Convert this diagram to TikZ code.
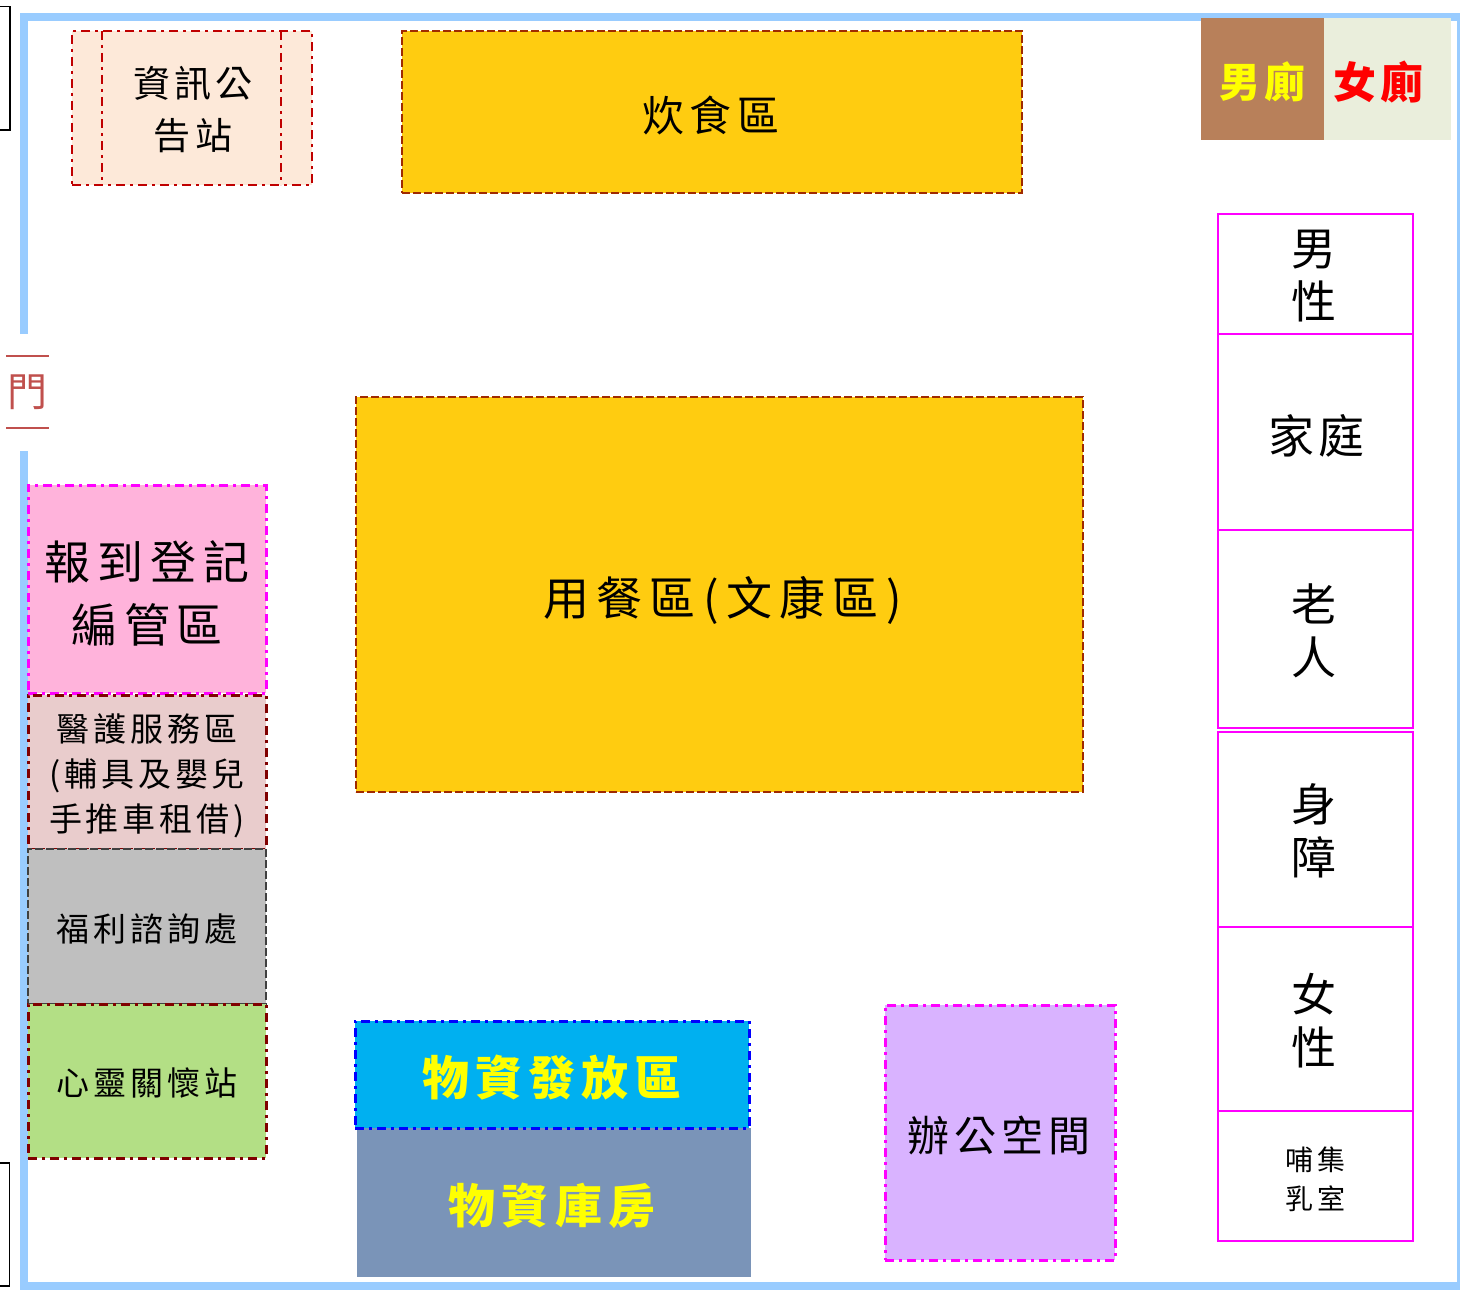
\documentclass[tikz,border=0pt]{standalone}
\usepackage{fontspec}
\setmainfont{Noto Sans CJK TC}
\usetikzlibrary{calc}
\definecolor{wallblue}{HTML}{99CCFF}
\definecolor{doorred}{HTML}{C0504D}
\definecolor{infofill}{HTML}{FDE9D9}
\definecolor{infoline}{HTML}{C00000}
\definecolor{amber}{HTML}{FFCC10}
\definecolor{amberline}{HTML}{A02B00}
\definecolor{pinkfill}{HTML}{FFB3DB}
\definecolor{rosefill}{HTML}{E9CCCC}
\definecolor{darkred}{HTML}{800000}
\definecolor{grayfill}{HTML}{BFBFBF}
\definecolor{grayline}{HTML}{404040}
\definecolor{greenfill}{HTML}{B3DF85}
\definecolor{cyanfill}{HTML}{00B0F0}
\definecolor{steelfill}{HTML}{7A94B8}
\definecolor{violetfill}{HTML}{D9B3FF}
\definecolor{brownfill}{HTML}{B8805A}
\definecolor{creamfill}{HTML}{EAEEDC}
\definecolor{puremagenta}{HTML}{FF00FF}
\definecolor{pureyellow}{HTML}{FFFF00}
\definecolor{purered}{HTML}{FF0000}
\definecolor{pureblue}{HTML}{0000FF}
\newcommand{\zhsize}[3]{\fontsize{#1}{#2}\selectfont\addfontfeature{LetterSpace=#3}}
\newcommand{\zhbold}[3]{\fontsize{#1}{#2}\selectfont\bfseries\addfontfeature{LetterSpace=#3}}
% name, x0, y0, x1, y1, box style, label style with offset, text
\newcommand{\zbox}[8]{%
  \node[#6, minimum width={(#4-#2)*1pt}, minimum height={(#5-#3)*1pt}] (#1) at ({(#2+#4)/2},{(#3+#5)/2}) {};
  \node[zonetext, #7] (#1-text) at (#1.center) {#8};}
\tikzset{
  x=1pt, y=-1pt,
  zone/.style={rectangle, inner sep=0pt, outer sep=0pt},
  zonetext/.style={inner sep=0pt, outer sep=0pt, align=center, text=black},
  dashdot/.style={line width=3pt, dash pattern=on 9pt off 5pt on 3pt off 5pt},
  longdash/.style={line width=2.8pt, dash pattern=on 8pt off 3pt},
  bay/.style={zone, draw=puremagenta, line width=2.7pt, fill=white},
  wall/.style={draw=wallblue, line width=8pt, line join=miter},
  door/.style={draw=doorred, line width=1.6pt},
  offbox/.style={draw=black, line width=1.4pt, fill=white}
}
\begin{document}
\begin{tikzpicture}
\useasboundingbox (0,0) rectangle (1460,1290);
% walls
\coordinate (wa) at (24,334);
\coordinate (wb) at (24,17);
\coordinate (wc) at (1461,17);
\coordinate (wd) at (1461,1285.5);
\coordinate (we) at (24,1285.5);
\coordinate (wf) at (24,451);
\draw[wall] (wa) -- (wb) -- (wc) -- (wd) -- (we) -- (wf);
% off-page boxes
\coordinate (ba) at (-5,6.5); \coordinate (bb) at (10,130);
\coordinate (bc) at (-5,1163); \coordinate (bd) at (9.5,1286);
\draw[offbox] (ba) rectangle (bb);
\draw[offbox] (bc) rectangle (bd);
% door
\coordinate (da) at (6,356); \coordinate (db) at (49,356);
\coordinate (dc) at (6,428); \coordinate (dd) at (49,428);
\draw[door] (da) -- (db);
\draw[door] (dc) -- (dd);
\node[zonetext, text=doorred, font=\zhsize{40}{48}{0}] (mendoor) at (28,392) {門};
% top row
\zbox{info}{72}{31}{312}{185}{zone, fill=infofill, draw=infoline, dashdot, line width=2.6pt}{yshift=-2pt, xshift=1pt, font=\zhsize{37}{52}{11}}{資訊公\\告站}
\coordinate (ia) at (102,31); \coordinate (ib) at (102,185);
\coordinate (ic) at (281,31); \coordinate (id) at (281,185);
\draw[draw=infoline, dashdot, line width=2.6pt] (ia) -- (ib);
\draw[draw=infoline, dashdot, line width=2.6pt] (ic) -- (id);
\zbox{cook}{402}{31}{1022}{193}{zone, fill=amber, draw=amberline, longdash}{yshift=-3pt, xshift=-1pt, font=\zhsize{42}{50}{14}}{炊食區}
\zbox{mtoilet}{1201}{18}{1324}{140}{zone, fill=brownfill}{yshift=-3pt, text=pureyellow, font=\zhbold{41}{48}{9}}{男廁}
\zbox{ftoilet}{1324}{18}{1451}{140}{zone, fill=creamfill}{yshift=-3pt, xshift=-9pt, text=purered, font=\zhbold{43}{48}{9}}{女廁}
% centre
\zbox{dining}{356}{397}{1083}{792}{zone, fill=amber, draw=amberline, longdash}{yshift=-6pt, xshift=3pt, font=\zhsize{46}{54}{16}}{用餐區(文康區)}
% left column
\zbox{register}{28}{485}{266}{693}{zone, fill=pinkfill, draw=puremagenta, dashdot}{yshift=-4pt, font=\zhsize{46}{63}{15}}{報到登記\\編管區}
\zbox{medical}{28}{695}{266}{849}{zone, fill=rosefill, draw=darkred, dashdot}{yshift=-4pt, font=\zhsize{33}{45}{12}}{醫護服務區\\(輔具及嬰兒\\手推車租借)}
\zbox{welfare}{28}{849}{266}{1004}{zone, fill=grayfill, draw=grayline, longdash}{yshift=-2pt, font=\zhsize{33}{45}{12}}{福利諮詢處}
\zbox{care}{28}{1004}{266}{1158}{zone, fill=greenfill, draw=darkred, dashdot}{yshift=-2pt, font=\zhsize{33}{45}{12}}{心靈關懷站}
% bottom
\zbox{store}{357}{1128}{751}{1277}{zone, fill=steelfill}{yshift=-3pt, xshift=-2pt, text=pureyellow, font=\zhbold{47}{56}{13}}{物資庫房}
\zbox{supply}{355}{1021}{749}{1128}{zone, fill=cyanfill, draw=pureblue, dashdot}{yshift=-3pt, text=pureyellow, font=\zhbold{47}{56}{13}}{物資發放區}
\zbox{office}{885}{1005}{1115}{1260}{zone, fill=violetfill, draw=puremagenta, dashdot}{yshift=-3pt, xshift=-1pt, font=\zhsize{42}{50}{12}}{辦公空間}
% right column
\zbox{men}{1218}{214}{1413}{334}{bay}{yshift=-2pt, xshift=-2pt, font=\zhsize{45}{53}{0}}{男\\性}
\zbox{family}{1218}{334}{1413}{530}{bay}{yshift=-4pt, xshift=1pt, font=\zhsize{46}{54}{10}}{家庭}
\zbox{elder}{1218}{530}{1413}{728}{bay}{yshift=-2pt, xshift=-2pt, font=\zhsize{45}{53}{0}}{老\\人}
\zbox{disabled}{1218}{732}{1413}{927}{bay}{yshift=-1pt, xshift=-2pt, font=\zhsize{45}{53}{0}}{身\\障}
\zbox{women}{1218}{927}{1413}{1111}{bay}{yshift=-2pt, xshift=-2pt, font=\zhsize{45}{53}{0}}{女\\性}
\zbox{nursing}{1218}{1111}{1413}{1241}{bay}{yshift=-3pt, font=\zhsize{28}{39}{11}}{哺集\\乳室}
\end{tikzpicture}
\end{document}
